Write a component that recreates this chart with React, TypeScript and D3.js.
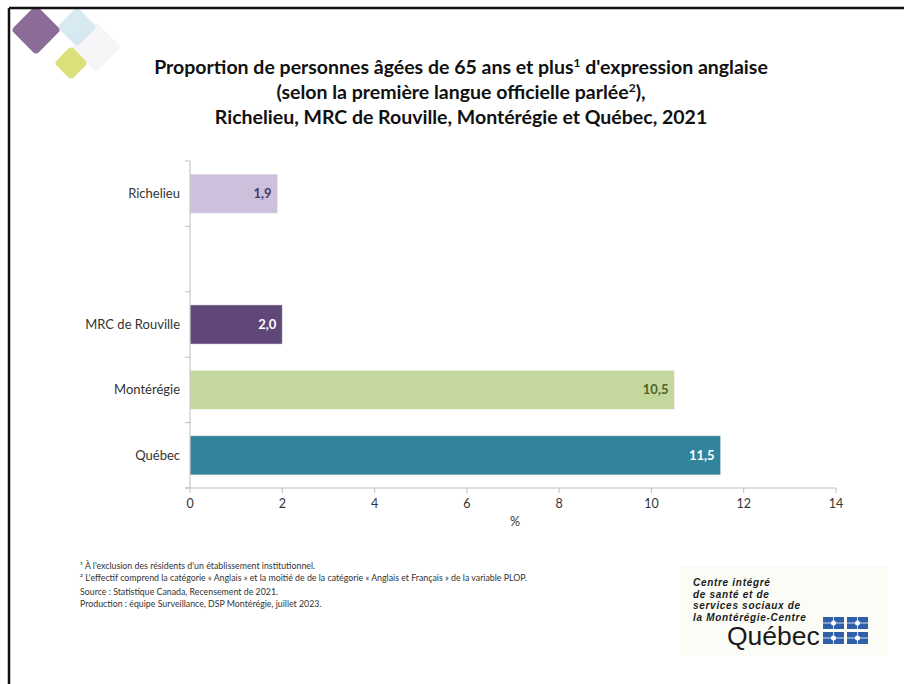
import React from "react";
import * as d3 from "d3";

const categories = ["Richelieu", "", "MRC de Rouville", "Montérégie", "Québec"];
const values: (number | null)[] = [1.9, null, 2.0, 10.5, 11.5];
const valueLabels = ["1,9", "", "2,0", "10,5", "11,5"];
const barColors = ["#CDC0DC", "#FFFFFF", "#5F4879", "#C4D89D", "#31849B"];
const labelColors = ["#4A3960", "#000", "#FFFFFF", "#4F6228", "#FFFFFF"];
const xTicks = [0, 2, 4, 6, 8, 10, 12, 14];
const titleLines = [
  ["Proportion de personnes âgées de 65 ans et plus", "1", " d'expression anglaise"],
  ["(selon la première langue officielle parlée", "2", "),"],
  ["Richelieu, MRC de Rouville, Montérégie et Québec, 2021", "", ""],
];
const footnotes = [
  "¹ À l'exclusion des résidents d'un établissement institutionnel.",
  "² L'effectif comprend la catégorie « Anglais » et la moitié de de la catégorie « Anglais et Français » de la variable PLOP.",
];
const sources = [
  "Source : Statistique Canada, Recensement de 2021.",
  "Production : équipe Surveillance, DSP Montérégie, juillet 2023.",
];
const logoLines = ["Centre intégré", "de santé et de", "services sociaux de", "la Montérégie-Centre"];

const FONT = "Lato, 'Open Sans', sans-serif";

export default function App() {
  const W = 904, H = 684;
  const x = d3.scaleLinear().domain([0, 14]).range([190, 836]);
  const y = d3.scaleBand<number>().domain(d3.range(categories.length)).range([161, 488]).paddingInner(0.4).paddingOuter(0.2);
  const yTickPositions = d3.range(categories.length + 1).map((i) => 161 + i * ((488 - 161) / categories.length));

  const diamond = (cx: number, cy: number, r: number) => {
    const s = r * Math.SQRT2;
    return { transform: `translate(${cx},${cy}) rotate(45)`, x: -s / 2, y: -s / 2, w: s };
  };
  const ds = [
    { ...diamond(96, 47, 25), fill: "#F4F4F6", op: 0.8 },
    { ...diamond(77, 27, 20), fill: "#D3E7EF", op: 0.9 },
    { ...diamond(36, 30, 25), fill: "#8A6C96", op: 1 },
    { ...diamond(71, 63, 17), fill: "#DCE07A", op: 1 },
  ];

  return (
    <svg width={W} height={H} style={{ position: "absolute", left: 0, top: 0, background: "#fff" }} fontFamily={FONT}>
      <rect x={0} y={0} width={W} height={H} fill="#fff" />
      {ds.map((d, i) => (
        <rect key={i} transform={d.transform} x={d.x} y={d.y} width={d.w} height={d.w} rx={4} fill={d.fill} opacity={d.op} />
      ))}
      {/* frame */}
      <rect x={0} y={0} width={W} height={8} fill="#fff" />
      <line x1={9} y1={8} x2={W} y2={8} stroke="#111" strokeWidth={2.5} />
      <line x1={9} y1={8} x2={9} y2={H} stroke="#111" strokeWidth={2.5} />

      {/* title */}
      {titleLines.map((l, i) => (
        <text key={i} x={461} y={74 + i * 25} textAnchor="middle" fontSize={19.5} fontWeight="bold" fill="#111">
          {l[0]}
          {l[1] && <tspan dy={-7} fontSize={12}>{l[1]}</tspan>}
          {l[1] ? <tspan dy={7}>{l[2]}</tspan> : null}
        </text>
      ))}

      {/* bars */}
      {categories.map((c, i) => {
        const v = values[i];
        if (v == null) return null;
        const by = y(i)!;
        return (
          <g key={i}>
            <rect x={x(0)} y={by} width={x(v) - x(0)} height={y.bandwidth()} fill={barColors[i]} stroke="#ffffff" strokeOpacity={0.5} strokeWidth={1} />
            <text x={x(v) - 6} y={by + y.bandwidth() / 2 + 4.5} textAnchor="end" fontSize={13} fontWeight="bold" fill={labelColors[i]}>
              {valueLabels[i]}
            </text>
          </g>
        );
      })}

      {/* y axis */}
      <line x1={x(0)} y1={161} x2={x(0)} y2={488} stroke="#BFBFBF" />
      {yTickPositions.map((t, i) => (
        <line key={i} x1={x(0) - 5} y1={t} x2={x(0)} y2={t} stroke="#BFBFBF" />
      ))}
      {categories.map((c, i) => (
        <text key={i} x={180} y={y(i)! + y.bandwidth() / 2 + 4.5} textAnchor="end" fontSize={13} fill="#333">
          {c}
        </text>
      ))}

      {/* x axis */}
      <line x1={x(0) - 5} y1={488} x2={x(14)} y2={488} stroke="#BFBFBF" />
      {xTicks.map((t) => (
        <g key={t}>
          <line x1={x(t)} y1={488} x2={x(t)} y2={493} stroke="#BFBFBF" />
          <text x={x(t)} y={508} textAnchor="middle" fontSize={12.5} fill="#333">
            {t}
          </text>
        </g>
      ))}
      <text x={515} y={526} textAnchor="middle" fontSize={12.5} fill="#333">%</text>

      {/* footnotes */}
      {footnotes.map((f, i) => (
        <text key={i} x={80} y={569 + i * 12} fontSize={8.8} fill="#333">{f}</text>
      ))}
      {sources.map((f, i) => (
        <text key={i} x={80} y={595 + i * 12} fontSize={8.8} fill="#333">{f}</text>
      ))}

      {/* logo */}
      <rect x={680} y={566} width={208} height={90} fill="#FCFCF7" />
      {logoLines.map((l, i) => (
        <text key={i} x={693} y={586 + i * 11.5} fontSize={10} letterSpacing={0.7} fontWeight="bold" fontStyle="italic" fill="#1a1a1a" fontFamily="'Liberation Sans', Arial, sans-serif">
          {l}
        </text>
      ))}
      <text x={727} y={645} fontSize={26.5} fill="#1a1a1a" fontFamily="'Liberation Sans', Arial, sans-serif">Québec</text>
      {[0, 1].map((r) =>
        [0, 1].map((c) => {
          const fx = 823 + c * 24;
          const fy = 617 + r * 15;
          return (
            <g key={`${r}-${c}`}>
              <rect x={fx} y={fy} width={21} height={12} fill="#2F5FA8" />
              <line x1={fx + 10.5} y1={fy} x2={fx + 10.5} y2={fy + 12} stroke="#fff" strokeWidth={0.8} />
              <line x1={fx} y1={fy + 6} x2={fx + 21} y2={fy + 6} stroke="#fff" strokeWidth={0.8} />
              <circle cx={fx + 10.5} cy={fy + 6} r={2.5} fill="#fff" />
            </g>
          );
        })
      )}
    </svg>
  );
}
